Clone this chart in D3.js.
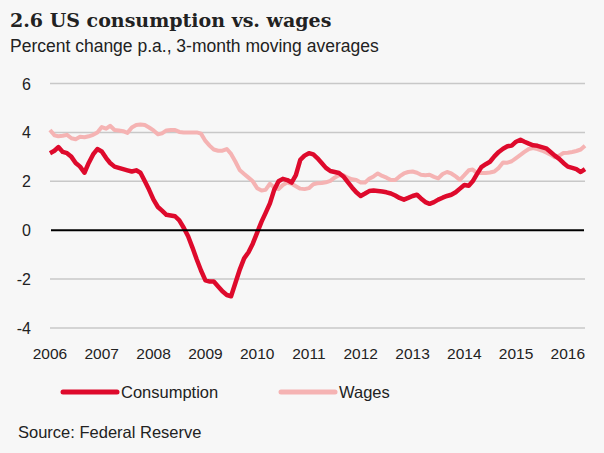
<!DOCTYPE html>
<html>
<head>
<meta charset="utf-8">
<script src="https://cdn.jsdelivr.net/npm/d3@7"></script>
<style>
  body { margin: 0; background: #f7f7f7; }
  svg { display: block; }
</style>
</head>
<body>
<script>
// monthly data, Jan 2006 - May 2016
const startMonth = new Date(2006, 0, 1);
const consumption = [
  3.15, 3.25, 3.4, 3.2, 3.15, 3.0, 2.75, 2.6, 2.35, 2.75, 3.1, 3.32,
  3.22, 2.95, 2.75, 2.6, 2.55, 2.5, 2.45, 2.4, 2.45, 2.35, 2.0, 1.65,
  1.25, 0.95, 0.8, 0.63, 0.6, 0.57, 0.4, 0.1, -0.25, -0.7, -1.2, -1.65,
  -2.05, -2.1, -2.1, -2.3, -2.5, -2.65, -2.7, -2.15, -1.6, -1.15, -0.9, -0.55,
  -0.1, 0.35, 0.7, 1.1, 1.65, 2.0, 2.1, 2.05, 1.95, 2.25, 2.88, 3.05,
  3.15, 3.1, 2.95, 2.75, 2.55, 2.42, 2.38, 2.34, 2.2, 1.98, 1.75, 1.55,
  1.4, 1.5, 1.6, 1.62, 1.6, 1.58, 1.55, 1.5, 1.42, 1.32, 1.25, 1.32,
  1.4, 1.45, 1.3, 1.15, 1.08, 1.15, 1.25, 1.33, 1.4, 1.45, 1.55, 1.7,
  1.85, 1.82, 2.0, 2.3, 2.58, 2.7, 2.8, 3.02, 3.2, 3.33, 3.43, 3.46,
  3.62, 3.7, 3.62, 3.54, 3.47, 3.45, 3.4, 3.35, 3.2, 3.05, 2.92, 2.75,
  2.6, 2.55, 2.5, 2.38, 2.5
];
const wages = [
  4.1, 3.88, 3.84, 3.86, 3.9, 3.76, 3.72, 3.82, 3.8, 3.84, 3.9, 4.0,
  4.22, 4.15, 4.27, 4.1, 4.08, 4.05, 3.98, 4.2, 4.3, 4.32, 4.3, 4.2,
  4.08, 3.92, 3.96, 4.08, 4.1, 4.1, 4.02, 4.0, 4.0, 4.0, 4.0, 3.95,
  3.65, 3.45, 3.3, 3.25, 3.25, 3.32, 3.12, 2.8, 2.45, 2.3, 2.15, 2.0,
  1.72, 1.62, 1.65, 1.9, 1.75, 1.68, 1.85, 1.95, 1.9, 1.8, 1.7, 1.68,
  1.72, 1.88, 1.92, 1.93, 1.96, 2.02, 2.15, 2.25, 2.25, 2.15, 2.08, 2.05,
  1.95, 1.95, 2.1, 2.2, 2.32, 2.22, 2.15, 2.05, 2.05, 2.2, 2.32, 2.38,
  2.4, 2.35, 2.27, 2.25, 2.27, 2.18, 2.12, 2.3, 2.38, 2.32, 2.2, 2.06,
  2.25, 2.45, 2.48, 2.34, 2.34, 2.34, 2.36, 2.4, 2.55, 2.77, 2.76, 2.82,
  2.95, 3.08, 3.2, 3.32, 3.36, 3.32, 3.26, 3.18, 3.09, 2.98, 3.05, 3.16,
  3.17, 3.2, 3.24, 3.3, 3.45
];
const yearLabels = ["2006", "2007", "2008", "2009", "2010", "2011", "2012", "2013", "2014", "2015", "2016"];
const yTicks = [-4, -2, 0, 2, 4, 6];

const months = consumption.map((d, i) => d3.timeMonth.offset(startMonth, i));

const W = 604, H = 453;
const sans = "Liberation Sans, Arial, sans-serif";
const svg = d3.select("body").append("svg")
  .attr("width", W)
  .attr("height", H);

svg.append("rect").attr("width", W).attr("height", H).attr("fill", "#f7f7f7");

// titles
svg.append("text")
  .attr("x", 10).attr("y", 27)
  .attr("font-family", "DejaVu Serif, serif")
  .attr("font-weight", "bold")
  .attr("font-size", 19)
  .attr("fill", "#222")
  .text("2.6 US consumption vs. wages");

svg.append("text")
  .attr("x", 10).attr("y", 52)
  .attr("font-family", sans)
  .attr("font-size", 17.5)
  .attr("fill", "#222")
  .text("Percent change p.a., 3-month moving averages");

const x = d3.scaleTime()
  .domain([startMonth, months[months.length - 1]])
  .range([50, 585]);

const y = d3.scaleLinear()
  .domain([-4, 6])
  .range([328, 83.5]);

// gridlines
svg.append("g")
  .selectAll("line")
  .data(yTicks.filter(d => d !== 0))
  .enter().append("line")
  .attr("x1", 50).attr("x2", 585)
  .attr("y1", d => y(d)).attr("y2", d => y(d))
  .attr("stroke", "#c8c8c8")
  .attr("stroke-width", 1.5);

// y labels
svg.append("g")
  .selectAll("text")
  .data(yTicks)
  .enter().append("text")
  .attr("x", 31)
  .attr("y", d => y(d) + 6)
  .attr("text-anchor", "end")
  .attr("font-family", sans)
  .attr("font-size", 16)
  .attr("fill", "#222")
  .text(d => d);

// x labels
svg.append("g")
  .selectAll("text")
  .data(yearLabels)
  .enter().append("text")
  .attr("x", d => x(new Date(+d, 0, 1)))
  .attr("y", 359)
  .attr("text-anchor", "middle")
  .attr("font-family", sans)
  .attr("font-size", 15.5)
  .attr("fill", "#222")
  .text(d => d);

const line = d3.line()
  .x((d, i) => x(months[i]))
  .y(d => y(d));

svg.append("path")
  .datum(wages)
  .attr("d", line)
  .attr("fill", "none")
  .attr("stroke", "#f5b3b3")
  .attr("stroke-width", 4)
  .attr("stroke-linejoin", "round");

svg.append("path")
  .datum(consumption)
  .attr("d", line)
  .attr("fill", "none")
  .attr("stroke", "#de0a2c")
  .attr("stroke-width", 4.5)
  .attr("stroke-linejoin", "round");

// zero line
svg.append("line")
  .attr("x1", 51).attr("x2", 584)
  .attr("y1", y(0)).attr("y2", y(0))
  .attr("stroke", "#000")
  .attr("stroke-width", 2);

// legend
const legend = [
  { name: "Consumption", color: "#de0a2c", x: 63 },
  { name: "Wages", color: "#f5b3b3", x: 281 }
];
const lg = svg.append("g");
legend.forEach(l => {
  lg.append("line")
    .attr("x1", l.x).attr("x2", l.x + 54)
    .attr("y1", 392).attr("y2", 392)
    .attr("stroke", l.color)
    .attr("stroke-width", 5)
    .attr("stroke-linecap", "round");
  lg.append("text")
    .attr("x", l.x + 58).attr("y", 398)
    .attr("font-family", sans)
    .attr("font-size", 16.5)
    .attr("fill", "#222")
    .text(l.name);
});

svg.append("text")
  .attr("x", 18).attr("y", 438)
  .attr("font-family", sans)
  .attr("font-size", 16.5)
  .attr("fill", "#222")
  .text("Source: Federal Reserve");
</script>
</body>
</html>
